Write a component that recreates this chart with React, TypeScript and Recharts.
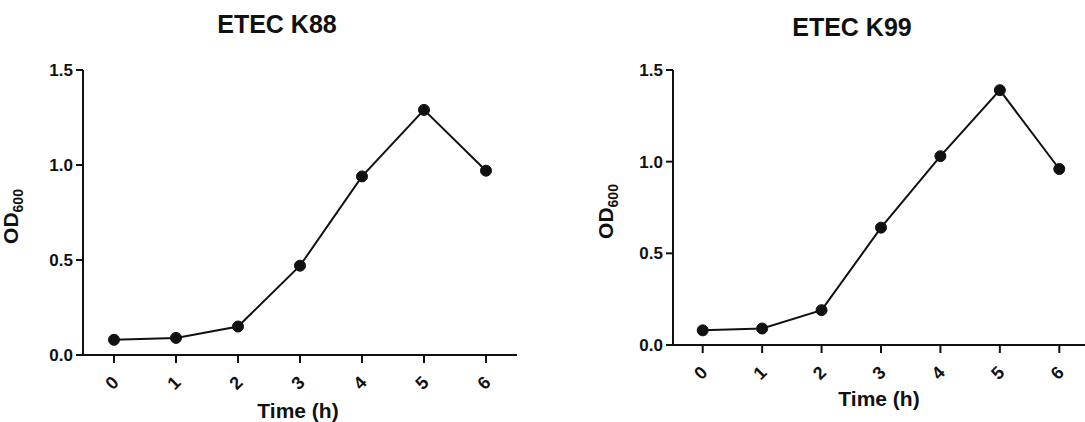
import { LineChart, Line, XAxis, YAxis, Label } from "recharts";

const hours = [0, 1, 2, 3, 4, 5, 6];
const k88 = [0.08, 0.09, 0.15, 0.47, 0.94, 1.29, 0.97];
const k99 = [0.08, 0.09, 0.19, 0.64, 1.03, 1.39, 0.96];
const yTicks = [0, 0.5, 1, 1.5];

const FONT = '"Liberation Sans", Arial, sans-serif';
const INK = "#111";

const XTick = (props: any) => {
  const { x, y, payload } = props;
  const cx = x - 2;
  const cy = y + 20;
  return (
    <text
      x={cx}
      y={cy}
      textAnchor="middle"
      dominantBaseline="central"
      transform={`rotate(-45 ${cx} ${cy})`}
      fontFamily={FONT}
      fontWeight="bold"
      fontSize={18}
      fill={INK}
    >
      {payload.value}
    </text>
  );
};

const odLabel = (lx: number) => (props: any) => {
  const vb = props.viewBox;
  const cy = vb.y + vb.height / 2 + 4;
  return (
    <text
      x={lx}
      y={cy}
      textAnchor="middle"
      transform={`rotate(-90 ${lx} ${cy})`}
      fontFamily={FONT}
      fontWeight="bold"
      fontSize={21}
      fill={INK}
    >
      OD
      <tspan fontSize={14} dy={5}>
        600
      </tspan>
    </text>
  );
};

const timeLabel = (ly: number) => (props: any) => {
  const vb = props.viewBox;
  return (
    <text
      x={vb.x + vb.width / 2 - 2}
      y={ly}
      textAnchor="middle"
      fontFamily={FONT}
      fontWeight="bold"
      fontSize={21}
      fill={INK}
    >
      Time (h)
    </text>
  );
};

interface PanelProps {
  title: string;
  values: number[];
  left: number;
  width: number;
  right: number;
  axisHeight: number;
  titleX: number;
  titleY: number;
  odX: number;
  timeY: number;
}

const Panel = ({ title, values, left, width, right, axisHeight, titleX, titleY, odX, timeY }: PanelProps) => {
  const data = hours.map((h, i) => ({ h, od: values[i] }));
  return (
    <div style={{ position: "absolute", left, top: 0 }}>
      <div
        style={{
          position: "absolute",
          left: titleX - 100,
          top: titleY - 15,
          width: 200,
          textAlign: "center",
          fontFamily: FONT,
          fontWeight: "bold",
          fontSize: 25,
          lineHeight: "30px",
          color: INK,
        }}
      >
        {title}
      </div>
      <LineChart width={width} height={422} data={data} margin={{ top: 70, right, bottom: 0, left: 0 }}>
        <XAxis
          dataKey="h"
          type="number"
          domain={[-0.5, 6.5]}
          ticks={hours}
          height={axisHeight}
          tickSize={8}
          tickMargin={0}
          tick={<XTick />}
          axisLine={{ stroke: INK, strokeWidth: 2 }}
          tickLine={{ stroke: INK, strokeWidth: 2 }}
        >
          <Label content={timeLabel(timeY)} />
        </XAxis>
        <YAxis
          domain={[0, 1.5]}
          ticks={yTicks}
          width={83}
          tickSize={7}
          tickMargin={3}
          tickFormatter={(v: number) => v.toFixed(1)}
          tick={{ fontFamily: FONT, fontWeight: "bold", fontSize: 17, fill: INK }}
          axisLine={{ stroke: INK, strokeWidth: 2 }}
          tickLine={{ stroke: INK, strokeWidth: 2 }}
        >
          <Label content={odLabel(odX)} />
        </YAxis>
        <Line
          dataKey="od"
          stroke={INK}
          strokeWidth={2}
          dot={{ r: 5.5, fill: INK, stroke: INK, strokeWidth: 1 }}
          isAnimationActive={false}
        />
      </LineChart>
    </div>
  );
};

export default function App() {
  return (
    <div
      style={{
        position: "absolute",
        left: 0,
        top: 0,
        width: 1085,
        height: 422,
        overflow: "hidden",
        background: "#fff",
      }}
    >
      <Panel title="ETEC K88" values={k88} left={0} width={530} right={13} axisHeight={67} titleX={277} titleY={24} odX={18} timeY={418} />
      <Panel title="ETEC K99" values={k99} left={590} width={499} right={0} axisHeight={77} titleX={262} titleY={27} odX={23} timeY={406} />
    </div>
  );
}
